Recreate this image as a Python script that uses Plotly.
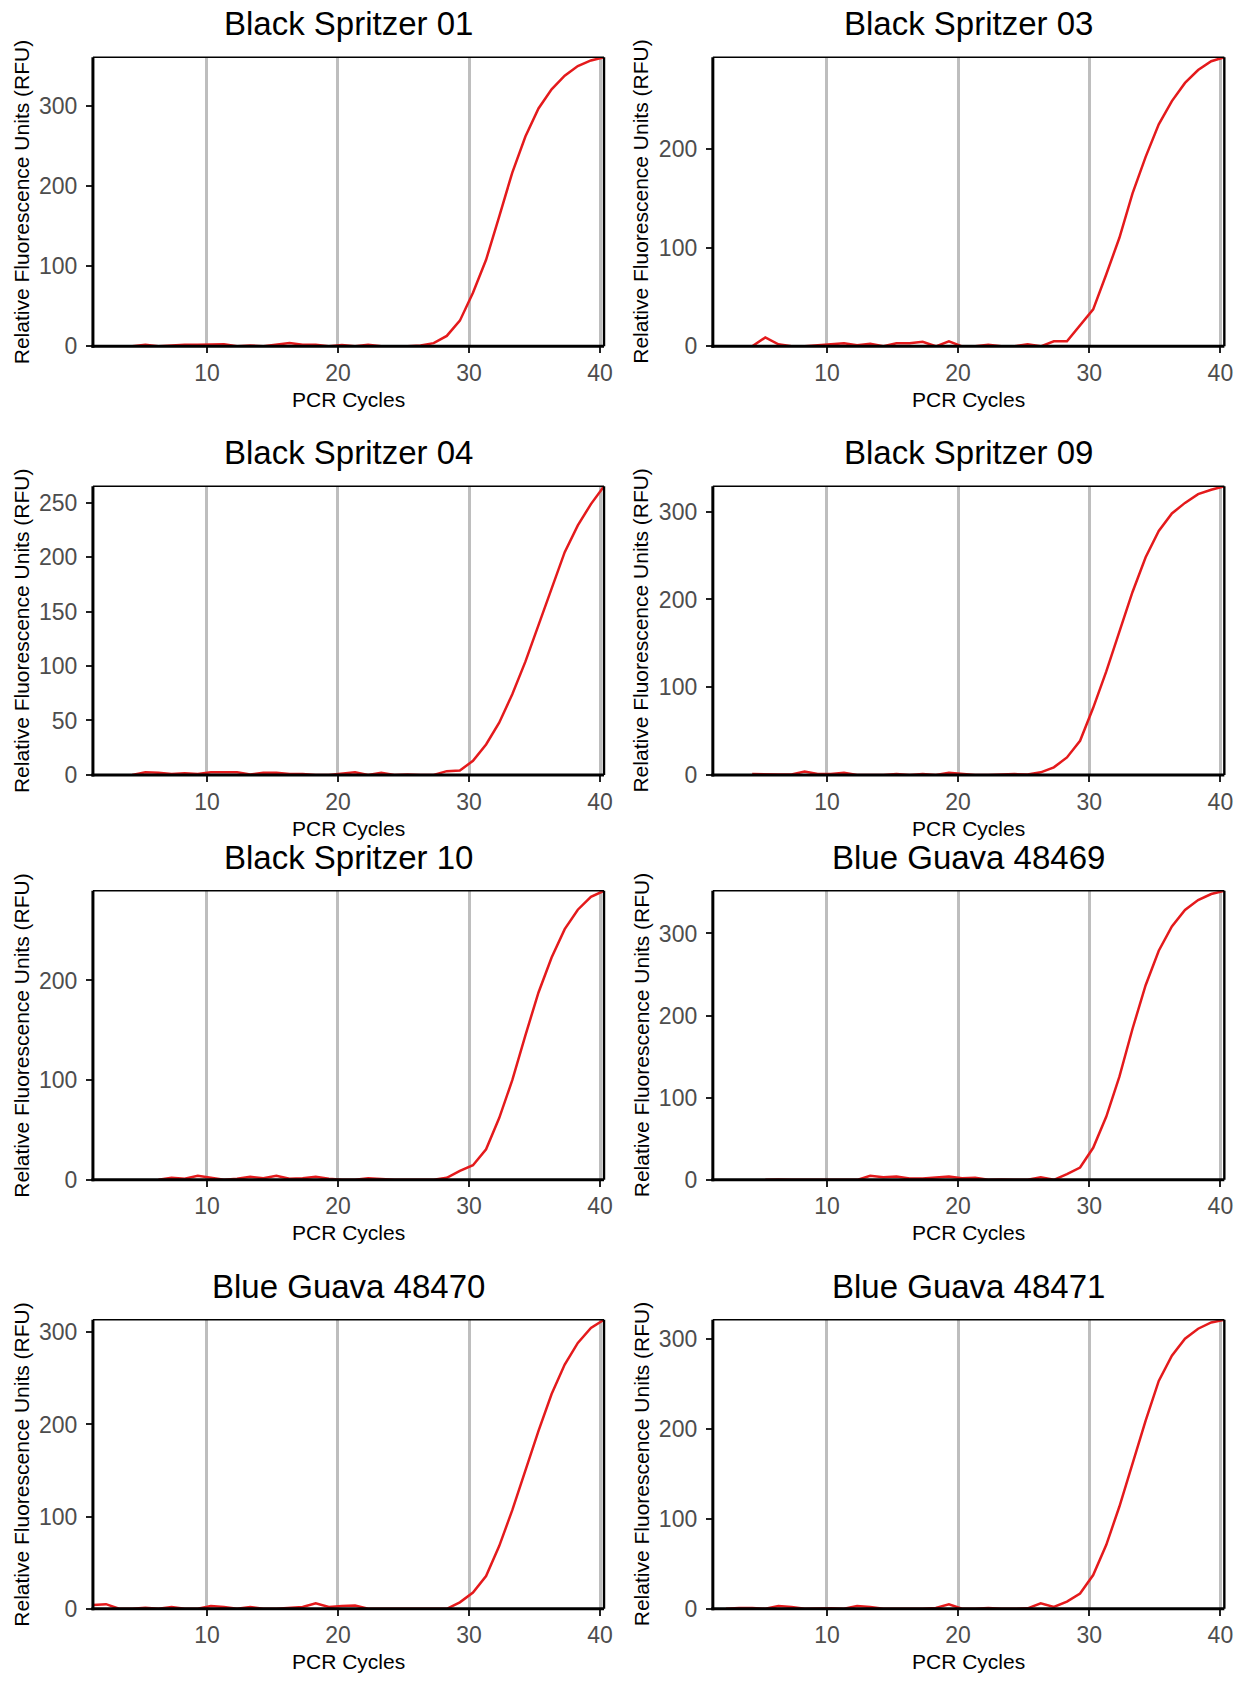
import plotly.graph_objects as go

# ---------------- data ----------------
titles = ["Black Spritzer 01", "Black Spritzer 03",
          "Black Spritzer 04", "Black Spritzer 09",
          "Black Spritzer 10", "Blue Guava 48469",
          "Blue Guava 48470", "Blue Guava 48471"]

cycles = list(range(1, 41))
cycle_offset = 0.3  # points sit slightly right of the integer cycle in the original

N = None
rfu_bs01 = [N, N, N, 0, 2, 0, 1, 2, 2, 2, 2.5, 0, 1, 0, 2, 4, 2, 2, 0, 1.5,
            0, 2, 0, 0, 0, 1, 4, 13, 32, 67, 108, 162, 217, 262, 297, 321, 338, 350, 357, 361]
rfu_bs03 = [N, N, N, 0, 9, 2, 0, 0, 1, 2, 3, 1, 2.5, 0, 3, 3, 4.5, 0, 5, 0,
            0, 1.5, 0, 0, 2, 0, 5, 5, 21, 37.5, 73, 110, 155, 192, 225, 248.6, 267, 280, 289, 293]
rfu_bs04 = [N, N, N, 0, 2.5, 2, 1, 1.5, 1, 2.5, 2.5, 2.5, 0.5, 2, 2, 1, 1, 0, 0, 1,
            2.5, 0, 2, 0, 0.5, 0, 0, 3.5, 4, 13, 28, 48, 74, 104, 138, 171, 204.5, 229, 248.6, 265]
rfu_bs09 = [N, N, N, 1, 0.5, 0.5, 0.5, 4, 1, 1, 2.5, 0, 0, 0, 1, 0, 1, 0, 2.5, 1,
            0, 0, 0.5, 1, 0.5, 3, 8.7, 20, 39, 76.5, 118, 163, 208.5, 248, 278, 298, 310, 320, 325, 329]
rfu_bs10 = [N, N, N, N, N, 0, 2, 1, 4, 2, 0, 1, 3, 1.5, 4, 1, 1.5, 3, 1, 0,
            0, 1.5, 0.5, 0, 0, 0, 0, 2, 9, 14.6, 30.6, 62, 100, 145, 188, 223, 251.5, 271, 284, 290]
rfu_bg48469 = [N, N, N, N, 0, 0.5, 0, 0, 0.5, 0, 0, 0, 5, 3, 4, 1.5, 1.5, 2.5, 4, 2,
               2.5, 0, 0.5, 0, 0, 3, 0, 7, 15, 39, 77, 125.6, 184, 237, 279, 308.5, 328.6, 340.7, 348, 352]
rfu_bg48470 = [4, 5, 0, 0, 1, 0, 2, 0, 0, 3, 2, 0, 2, 0, 0, 1, 2, 6, 2, 3,
               3.5, 0, 0, 0, 0, 0, 0, 0, 7, 17.6, 35.5, 68, 107, 150, 193, 233, 265, 288.5, 304.6, 313.6]
rfu_bg48471 = [N, 0, 1, 1, 0, 3, 2, 0, 0.5, 0.5, 0, 3, 2, 0, 0, 0, 0, 1, 5, 0,
               0, 1, 0, 0, 0.5, 6, 2, 8, 17, 37.5, 71, 113.6, 161, 209, 253, 281, 300, 311, 318, 321]

series = [rfu_bs01, rfu_bs03, rfu_bs04, rfu_bs09, rfu_bs10, rfu_bg48469, rfu_bg48470, rfu_bg48471]
y_dticks = [100, 100, 50, 100, 100, 100, 100, 100]
x_ticks = [10, 20, 30, 40]

x_title = "PCR Cycles"
y_title = "Relative Fluorescence Units (RFU)"

# ---------------- layout ----------------
W, H = 1252, 1685
col_px = [(93.6, 608.4), (718.0, 1233.2)]
row_px = [(57.7, 349.0), (490.0, 781.0), (897.7, 1189.0), (1330.0, 1621.3)]
yt_center_px = [21.6, 645.6]

LINE_RED = "#E41A1C"
GRID = "#BEBEBE"
TICK_GREY = "#4D4D4D"
FONT = "Liberation Sans, Arial, Helvetica, sans-serif"

fig = go.Figure()
layout = dict(width=W, height=H, margin=dict(l=0, r=0, t=0, b=0),
              paper_bgcolor="white", plot_bgcolor="white",
              showlegend=False, font=dict(family=FONT))
annotations = []
shapes = []

xs = [c + cycle_offset for c in cycles]
x_range = [cycles[0] + cycle_offset, cycles[-1] + cycle_offset]

for i, (title, vals) in enumerate(zip(titles, series)):
    r, c = divmod(i, 2)
    n = i + 1
    xa = "x" if n == 1 else f"x{n}"
    ya = "y" if n == 1 else f"y{n}"
    xl, xr = col_px[c]
    yt, yb = row_px[r]
    xd = [xl / W, xr / W]
    yd = [1 - yb / H, 1 - yt / H]

    fig.add_trace(go.Scatter(x=xs, y=vals, mode="lines", xaxis=xa, yaxis=ya,
                             line=dict(color=LINE_RED, width=2.5),
                             connectgaps=False, hoverinfo="skip"))

    ymax = max(v for v in vals if v is not None)
    layout["xaxis" if n == 1 else f"xaxis{n}"] = dict(
        domain=xd, anchor=ya, range=x_range, tickmode="array", tickvals=x_ticks,
        showgrid=True, gridcolor=GRID, gridwidth=2.5, zeroline=False,
        showline=False, ticks="outside", ticklen=6, tickwidth=2, tickcolor="#222222",
        tickfont=dict(size=23, color=TICK_GREY, family=FONT), ticklabelstandoff=0)
    layout["yaxis" if n == 1 else f"yaxis{n}"] = dict(
        domain=yd, anchor=xa, range=[0, ymax], tick0=0, dtick=y_dticks[i],
        showgrid=False, zeroline=False, showline=False,
        ticks="outside", ticklen=6, tickwidth=2, tickcolor="#222222",
        tickfont=dict(size=23, color=TICK_GREY, family=FONT), ticklabelstandoff=4)

    # panel frame: thin top/right, thick left/bottom axis lines
    shapes.append(dict(type="line", xref="paper", yref="paper", x0=xd[0], x1=xd[1], y0=yd[1], y1=yd[1],
                       line=dict(color="black", width=1.6), layer="above"))
    shapes.append(dict(type="line", xref="paper", yref="paper", x0=xd[1], x1=xd[1], y0=yd[0], y1=yd[1],
                       line=dict(color="black", width=2.4), layer="above"))
    shapes.append(dict(type="line", xref="paper", yref="paper", x0=xd[0], x1=xd[0], y0=yd[0] - 1.5 / H, y1=yd[1],
                       line=dict(color="black", width=3), layer="above"))
    shapes.append(dict(type="line", xref="paper", yref="paper", x0=xd[0] - 1.5 / W, x1=xd[1], y0=yd[0], y1=yd[0],
                       line=dict(color="black", width=3), layer="above"))

    cx = (xd[0] + xd[1]) / 2
    # panel title (baseline ~23px above panel)
    annotations.append(dict(text=title, xref="paper", yref="paper", x=cx, y=1 - (yt - 23) / H,
                            xanchor="center", yanchor="bottom", showarrow=False,
                            font=dict(size=33, color="black", family=FONT), yshift=-10))
    # x-axis title
    annotations.append(dict(text=x_title, xref="paper", yref="paper", x=cx, y=1 - (yb + 59) / H,
                            xanchor="center", yanchor="bottom", showarrow=False,
                            font=dict(size=21, color="black", family=FONT), yshift=-8))
    # y-axis title
    annotations.append(dict(text=y_title, xref="paper", yref="paper", x=yt_center_px[c] / W,
                            y=(yd[0] + yd[1]) / 2, xanchor="center", yanchor="middle",
                            textangle=-90, showarrow=False,
                            font=dict(size=21, color="black", family=FONT)))

layout["annotations"] = annotations
layout["shapes"] = shapes
fig.update_layout(**layout)
fig.write_html("out.html", config={"displayModeBar": False},
               post_script="document.body.style.margin='0';document.body.style.overflow='hidden';")
